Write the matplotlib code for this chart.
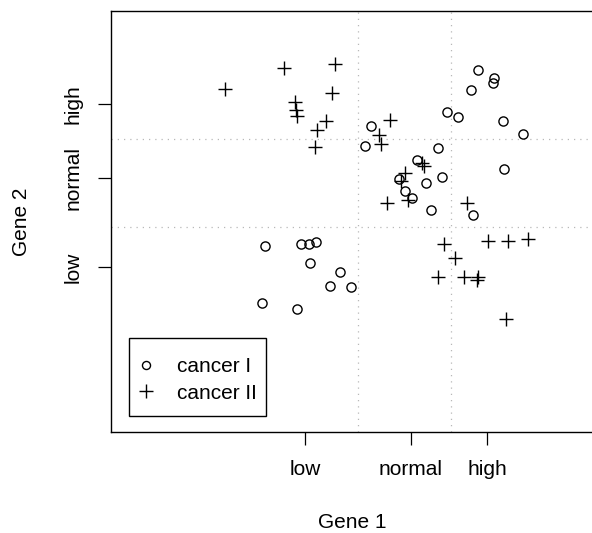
import matplotlib
matplotlib.use("Agg")
import matplotlib.pyplot as plt
from matplotlib.lines import Line2D
from matplotlib.patches import Rectangle

plt.rcParams['font.family'] = ['Liberation Sans', 'DejaVu Sans']

# Cancer I (circles)
c1_x = [36.7, 38.3, 38.2, 36.0, 33.6, 34.7, 39.2, 41.2, 32.7, 39.3,
        33.1, 26.0, 25.4, 30.6, 28.8, 31.5, 29.4, 30.1, 32.0, 36.2,
        15.4, 19.0, 19.8, 20.5, 19.9, 22.9, 21.9, 24.0, 15.1, 18.6]
c1_y = [36.2, 35.4, 34.9, 34.2, 32.0, 31.5, 31.1, 29.8, 28.4, 26.3,
        25.5, 30.6, 28.6, 27.2, 25.3, 24.9, 24.1, 23.4, 22.2, 21.7,
        18.6, 18.8, 18.8, 19.0, 16.9, 16.0, 14.6, 14.5, 12.9, 12.3]

# Cancer II (crosses)
c2_x = [11.4, 17.3, 22.4, 22.1, 18.4, 18.5, 18.6, 21.5, 20.6, 20.4,
        27.9, 26.8, 27.0, 31.1, 31.3, 29.4, 29.7, 27.6, 35.6, 33.3,
        37.7, 39.7, 41.7, 34.4, 32.7, 35.3, 36.7, 36.6, 39.5, 29.0]
c2_y = [34.3, 36.4, 36.8, 33.9, 33.0, 32.2, 31.6, 31.1, 30.2, 28.5,
        31.2, 29.7, 28.8, 26.9, 26.6, 25.9, 23.2, 22.9, 22.9, 18.8,
        19.1, 19.1, 19.3, 17.4, 15.5, 15.5, 15.5, 15.2, 11.3, 25.1]

x_ticks = [19.4, 30.0, 37.6]
y_ticks = [16.5, 25.4, 32.8]
tick_labels = ['low', 'normal', 'high']
x_cuts = [24.7, 34.0]
y_cuts = [20.5, 29.3]

W, H = 592, 533
fig = plt.figure(figsize=(W / 100, H / 100), dpi=100)
ax = fig.add_axes([111 / W, (H - 432) / H, 482 / W, 421 / H])
ax.set_xlim(0, 48.2)
ax.set_ylim(0, 42.1)

for xc in x_cuts:
    ax.axvline(xc, color='#b8b8b8', lw=0.9, ls=(0, (1, 4)), zorder=1)
for yc in y_cuts:
    ax.axhline(yc, color='#b8b8b8', lw=0.9, ls=(0, (1, 4)), zorder=1)

ax.plot(c1_x, c1_y, ls='none', marker='o', mfc='none', mec='black',
        ms=6.6, mew=1.0, zorder=3)
ax.plot(c2_x, c2_y, ls='none', marker='+', mec='black',
        ms=10.5, mew=1.0, zorder=3)

fs = 15
ax.set_xticks(x_ticks)
ax.set_xticklabels(tick_labels, fontsize=fs)
ax.set_yticks(y_ticks)
ax.set_yticklabels(tick_labels, fontsize=fs, rotation=90, va='center')
ax.tick_params(axis='both', length=9.3, width=0.9, color='black', pad=11)

for s in ax.spines.values():
    s.set_linewidth(1.0)
    s.set_color('black')

ax.set_xlabel('Gene 1', fontsize=fs, va='center')
ax.xaxis.set_label_coords(0.5, (432 - 523) / 421)
ax.set_ylabel('Gene 2', fontsize=fs, ha='center', va='center')
ax.yaxis.set_label_coords((21 - 111) / 482, 0.5)

handles = [
    Line2D([], [], ls='none', marker='o', mfc='none', mec='black', ms=5.8, mew=1.0),
    Line2D([], [], ls='none', marker='+', mec='black', ms=9.5, mew=1.0),
]
leg = ax.legend(handles, ['cancer I', 'cancer II'], loc='center left',
                bbox_to_anchor=((137.6 - 111) / 482, (432 - 380) / 421),
                borderaxespad=0, borderpad=0, fontsize=fs, frameon=False,
                handlelength=0.8, handletextpad=1.08, labelspacing=0.35)

ax.add_patch(Rectangle((18 / 482, 16 / 421), 137 / 482, 78 / 421,
                       transform=ax.transAxes, fill=False, edgecolor='black',
                       lw=1.0, zorder=4))

fig.savefig('out.png', dpi=100)
